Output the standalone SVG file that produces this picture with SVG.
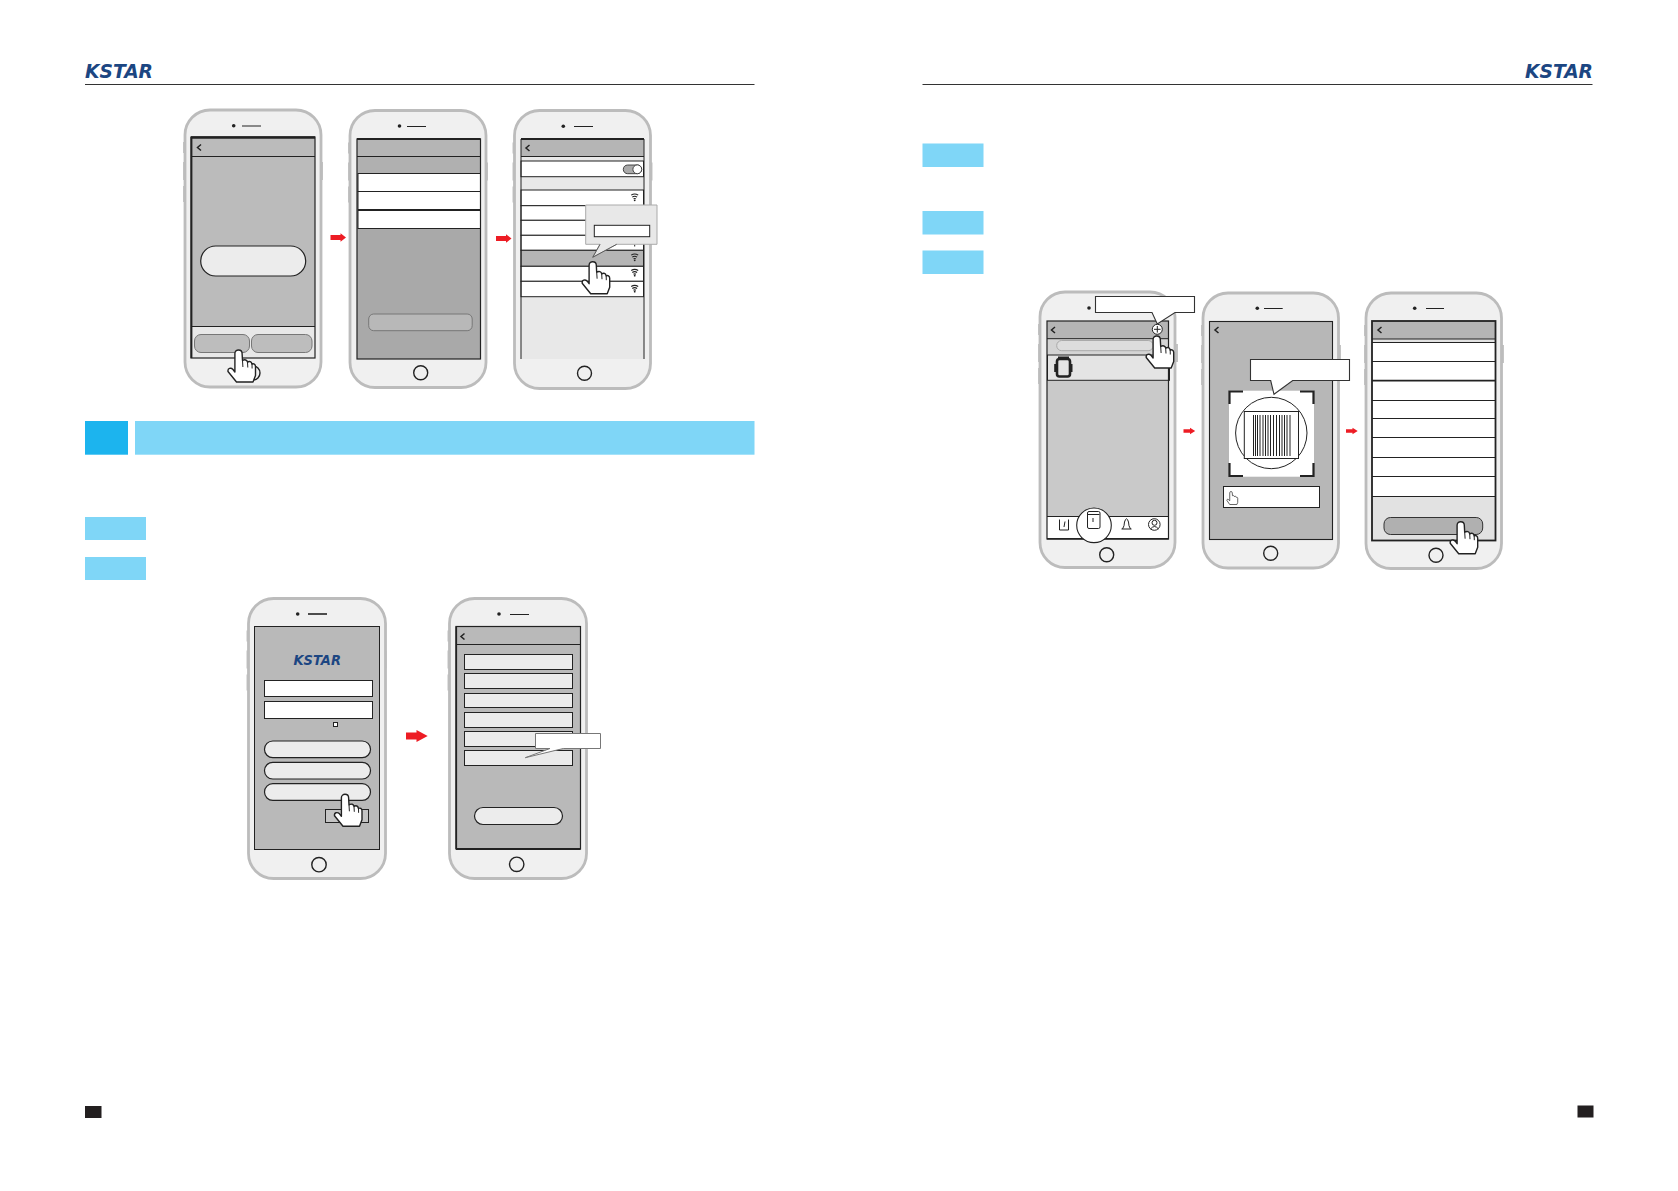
<svg xmlns="http://www.w3.org/2000/svg" width="1678" height="1191" viewBox="0 0 1678 1191">
<style>
.phone{fill:#f0f0f0;stroke:#bcbcbc;stroke-width:2.8}
.nub{fill:#c4c4c4;stroke:none}
.scr{stroke:#222;stroke-width:1.2}
.thick{stroke:#222;stroke-width:1.8;fill:none}
.home{fill:none;stroke:#222;stroke-width:1.4}
.spk{stroke:#222;stroke-width:1;fill:none}
.dot{fill:#222}
.hd{fill:#b5b5b5}
.w{fill:#fff;stroke:#222;stroke-width:1}
.lg{fill:#ebebeb;stroke:#222;stroke-width:1}
.pill{fill:#ececec;stroke:#222;stroke-width:1.2}
.chev{fill:none;stroke:#222;stroke-width:1.5}
.hand{fill:#fff;stroke:#222;stroke-width:1.4;stroke-linejoin:round}
.ln{stroke:#222;stroke-width:1;fill:none}
.arr{fill:#ed1c24}
.band{fill:#7fd6f7}
.rule{stroke:#333;stroke-width:1}
.logo{font-family:"DejaVu Sans",Verdana,sans-serif;font-weight:700;font-style:italic;fill:#1c4682}
.tip{fill:#fff;stroke:#777;stroke-width:1}
.tipd{fill:#fff;stroke:#333;stroke-width:1.1}
</style>
<defs>
<g id="nubs">
<rect class="nub" x="-2" y="32" width="2" height="11"/><rect class="nub" x="-2" y="52" width="2" height="18"/><rect class="nub" x="-2" y="76" width="2" height="16"/><rect class="nub" x="136" y="52" width="2" height="18"/>
</g>
<g id="hand">
<path class="hand" d="M-3.6,3.5C-3.6,-1.2 3.6,-1.2 3.6,3.5L4,10.5C6.2,9.2 8.6,9.8 9,12.2C11,10.8 13,11.6 13.5,14.2C15,13.2 17,14.2 17,16.5L17,25.5L14.5,32L-2,32L-10.5,21.5C-11,18 -7.5,17.5 -5.5,19.5L-3.6,22Z"/>
<path class="ln" d="M4,10.5L4.4,17M9,12.2L9.3,17.5M13.5,14.2L13.6,18.5" stroke-width="1.2"/>
</g>
<g id="wifi"><path d="M-3.5,-2.2Q0,-4.5 3.5,-2.2M-2.4,-0.2Q0,-2 2.4,-0.2M-1.2,1.6Q0,0.7 1.2,1.6" fill="none" stroke="#222" stroke-width="1.1"/><circle cx="0" cy="3" r="0.9" fill="#222"/></g>
<path id="chev" class="chev" d="M2,-3L-1.5,0L2,3"/>
<path id="rarrow" class="arr" d="M0,-2.6H10V-4.2L15.5,0L10,4.2V2.6H0Z"/>
</defs>

<g id="page-chrome">
<text class="logo" x="85" y="77.6" font-size="18.8" textLength="68" lengthAdjust="spacingAndGlyphs">KSTAR</text>
<text class="logo" x="1525" y="77.6" font-size="18.8" textLength="68" lengthAdjust="spacingAndGlyphs">KSTAR</text>
<line class="rule" x1="85" y1="84.5" x2="754.5" y2="84.5"/>
<line class="rule" x1="922.5" y1="84.5" x2="1592.5" y2="84.5"/>
<rect x="85" y="1106" width="16.5" height="12" fill="#231f20"/>
<rect x="1577.5" y="1105.5" width="16" height="12" fill="#231f20"/>
<rect x="85" y="421" width="43" height="33.7" fill="#1cb4ee"/>
<rect class="band" x="135" y="421" width="619.5" height="33.7"/>
<rect class="band" x="85" y="517" width="61" height="23"/>
<rect class="band" x="85" y="557" width="61" height="23"/>
<rect class="band" x="922.5" y="143.5" width="61" height="23.5"/>
<rect class="band" x="922.5" y="211" width="61" height="23.5"/>
<rect class="band" x="922.5" y="250.5" width="61" height="23.5"/>
</g>

<g id="connectors">
<use href="#rarrow" x="330.5" y="237.5"/>
<use href="#rarrow" x="496" y="238.5"/>
<path class="arr" d="M406,732.5H416.5V730L427.7,736L416.5,742V739.5H406Z"/>
<path class="arr" d="M1183.5,429.3H1190V427.7L1195.2,431L1190,434.3V432.7H1183.5Z"/>
<path class="arr" d="M1346,429.3H1352.5V427.7L1357.7,431L1352.5,434.3V432.7H1346Z"/>
</g>

<g id="phone-1">
<use href="#nubs" x="185" y="110"/>
<rect class="phone" x="185" y="110" width="136" height="277" rx="25"/>
<circle class="dot" cx="233.7" cy="125.7" r="1.8"/><line class="spk" x1="242" y1="126" x2="261" y2="126"/>
<circle class="home" cx="253" cy="373" r="7"/>
<rect x="191" y="137" width="124" height="189" fill="#bbb"/>
<rect x="191" y="326" width="124" height="32" fill="#e8e8e8"/>
<rect class="scr" x="191" y="137" width="124" height="221" fill="none"/>
<line x1="191" y1="137.5" x2="315" y2="137.5" stroke="#222" stroke-width="2.4"/>
<line x1="191.5" y1="137" x2="191.5" y2="358" stroke="#222" stroke-width="1.8"/>
<line class="ln" x1="191" y1="156.5" x2="315" y2="156.5"/>
<line class="ln" x1="191" y1="326.5" x2="315" y2="326.5"/>
<use href="#chev" x="199" y="147.5"/>
<rect class="pill" x="200.7" y="246" width="105" height="30" rx="15"/>
<rect x="194.5" y="334.5" width="55" height="18" rx="6.5" fill="#bdbdbd" stroke="#777"/>
<rect x="251.5" y="334.5" width="60.5" height="18" rx="6.5" fill="#bdbdbd" stroke="#777"/>
<use href="#hand" x="238.5" y="350"/>
</g>

<g id="phone-2">
<use href="#nubs" x="350" y="110.5"/>
<rect class="phone" x="350" y="110.5" width="136" height="277" rx="25"/>
<circle class="dot" cx="399.5" cy="126" r="1.8"/><line class="spk" x1="407" y1="126.5" x2="426" y2="126.5"/>
<circle class="home" cx="420.7" cy="372.7" r="7"/>
<rect x="357" y="139" width="123.5" height="220" fill="#a9a9a9"/>
<rect x="357" y="139" width="123.5" height="17.5" fill="#b5b5b5"/>
<rect x="357" y="156.5" width="123.5" height="17" fill="#b0b0b0"/>
<line class="ln" x1="357" y1="156.5" x2="480.5" y2="156.5"/>
<rect class="w" x="358" y="173.5" width="122.5" height="18"/>
<rect class="w" x="358" y="191.5" width="122.5" height="18"/>
<rect class="w" x="358" y="210.5" width="122.5" height="18"/>
<rect class="scr" x="357" y="139" width="123.5" height="220" fill="none"/>
<line x1="357" y1="139" x2="480.5" y2="139" stroke="#222" stroke-width="1.8"/>
<rect x="368.7" y="314" width="103.5" height="16.7" rx="5" fill="#b8b8b8" stroke="#777"/>
</g>

<g id="phone-3">
<use href="#nubs" x="514.5" y="110.5"/>
<rect class="phone" x="514.5" y="110.5" width="136" height="278" rx="25"/>
<circle class="dot" cx="563.3" cy="126.3" r="1.8"/><line class="spk" x1="574" y1="126.5" x2="593" y2="126.5"/>
<circle class="home" cx="584.5" cy="373.3" r="7"/>
<rect x="521" y="139" width="123" height="220" fill="#e8e8e8"/>
<rect class="hd" x="521" y="139" width="123" height="17.5"/>
<line x1="521" y1="139" x2="644" y2="139" stroke="#222" stroke-width="1.8"/>
<line class="ln" x1="521" y1="156.5" x2="644" y2="156.5"/>
<use href="#chev" x="527.5" y="148"/>
<rect class="w" x="521" y="161" width="122.5" height="15.7"/>
<rect class="w" x="521" y="190" width="122.5" height="15.7"/>
<rect class="w" x="521" y="205.7" width="122.5" height="14.6"/>
<rect class="w" x="521" y="220.3" width="122.5" height="15"/>
<rect class="w" x="521" y="235.3" width="122.5" height="15"/>
<rect x="521" y="250.3" width="122.5" height="16" fill="#b5b5b5" stroke="#222"/>
<rect class="w" x="521" y="266.3" width="122.5" height="15"/>
<rect class="w" x="521" y="281.3" width="122.5" height="15.4"/>
<path class="ln" d="M521,139V359M644,139V359"/>
<rect x="623.3" y="165" width="18.4" height="8.7" rx="4.3" fill="#aaa" stroke="#222" stroke-width=".8"/>
<circle cx="637.3" cy="169.3" r="4.4" fill="#fff" stroke="#222" stroke-width=".8"/>
<use href="#wifi" x="634.7" y="197.3"/>
<use href="#wifi" x="634.7" y="257.3"/>
<use href="#wifi" x="634.7" y="272.7"/>
<use href="#wifi" x="634.7" y="288.7"/>
<line class="ln" x1="634.7" y1="244.5" x2="634.7" y2="246.5"/>
<path d="M585.7,205H657V244.3H616.7L592.7,257.3L600,244.3H585.7Z" fill="#e8e8e8" stroke="#aaa"/>
<path d="M600,244.3L592.7,257.3L616.7,244.3" fill="none" stroke="#444" stroke-width=".8"/>
<rect class="w" x="594.3" y="225.3" width="55.4" height="11.4" stroke="#333"/>
<use href="#hand" x="592.7" y="261.7"/>
</g>

<g id="phone-4">
<use href="#nubs" x="248.5" y="598.5"/>
<rect class="phone" x="248.5" y="598.5" width="137" height="280" rx="25"/>
<circle class="dot" cx="297.7" cy="614" r="1.8"/><line x1="308" y1="614" x2="327" y2="614" stroke="#222" stroke-width="1.6"/>
<circle class="home" cx="319" cy="864.7" r="7.2"/>
<rect x="254.5" y="626.5" width="125" height="223" fill="#b9b9b9" stroke="#222"/>
<text class="logo" x="293.5" y="665" font-size="13.7" textLength="47.5" lengthAdjust="spacingAndGlyphs">KSTAR</text>
<rect class="w" x="264.5" y="680.5" width="108" height="16"/>
<rect class="w" x="264.5" y="701.5" width="108" height="17"/>
<rect class="w" x="333.5" y="722.5" width="4" height="4"/>
<rect class="pill" x="264.5" y="741" width="106" height="16.7" rx="8.3"/>
<rect class="pill" x="264.5" y="762.3" width="106" height="16.7" rx="8.3"/>
<rect class="pill" x="264.5" y="783.7" width="106" height="16.7" rx="8.3"/>
<rect x="325.5" y="809.5" width="43" height="13" fill="#c4c4c4" stroke="#222"/>
<use href="#hand" x="345" y="794.3"/>
</g>

<g id="phone-5">
<use href="#nubs" x="449.5" y="598.5"/>
<rect class="phone" x="449.5" y="598.5" width="137" height="280" rx="25"/>
<circle class="dot" cx="499" cy="614" r="1.8"/><line class="spk" x1="510" y1="614.5" x2="529" y2="614.5"/>
<circle class="home" cx="516.7" cy="864.3" r="7.2"/>
<rect class="scr" x="456" y="626.5" width="124.5" height="222.5" fill="#b9b9b9"/>
<line x1="456" y1="849" x2="580.5" y2="849" stroke="#222" stroke-width="1.8"/>
<line x1="456.3" y1="626.5" x2="456.3" y2="849" stroke="#222" stroke-width="1.6"/>
<line class="ln" x1="456" y1="644.5" x2="580.5" y2="644.5"/>
<use href="#chev" x="462.5" y="636.5"/>
<rect class="lg" x="464.5" y="654.5" width="108" height="15"/>
<rect class="lg" x="464.5" y="673.5" width="108" height="15"/>
<rect class="lg" x="464.5" y="693.5" width="108" height="14"/>
<rect class="lg" x="464.5" y="712.5" width="108" height="15"/>
<rect class="lg" x="464.5" y="731.5" width="108" height="15"/>
<rect class="lg" x="464.5" y="750.5" width="108" height="15"/>
<rect class="pill" x="474.5" y="807.5" width="88" height="17" rx="8.5"/>
<path class="tip" d="M535.5,733.5H600.5V748.5H563.3L525.3,757.7L550,748.5H535.5Z"/>
</g>

<g id="phone-6">
<use href="#nubs" x="1040" y="292"/>
<rect class="phone" x="1040" y="292" width="135" height="275.5" rx="25"/>
<circle class="dot" cx="1089" cy="308" r="1.8"/>
<circle class="home" cx="1106.7" cy="554.7" r="7"/>
<rect x="1047" y="321" width="121.5" height="218" fill="#c9c9c9"/>
<rect class="hd" x="1047" y="321" width="121.5" height="18"/>
<rect x="1047" y="339" width="121.5" height="16" fill="#d4d4d4"/>
<rect x="1047.5" y="355" width="122" height="25.3" fill="#e4e4e4" stroke="#222"/>
<rect x="1047" y="516" width="121.5" height="22.5" fill="#fff"/>
<rect class="scr" x="1047" y="321" width="121.5" height="218" fill="none"/>
<line class="ln" x1="1047" y1="338.7" x2="1168.5" y2="338.7"/>
<line class="ln" x1="1047" y1="516.5" x2="1168.5" y2="516.5"/>
<line x1="1047" y1="538.7" x2="1168.5" y2="538.7" stroke="#222" stroke-width="1.6"/>
<use href="#chev" x="1053" y="330"/>
<rect x="1056.7" y="340.5" width="96.5" height="10.2" rx="5" fill="#ddd" stroke="#aaa"/>
<rect x="1057" y="359" width="13" height="17.5" rx="2.5" fill="none" stroke="#222" stroke-width="2.6"/>
<path d="M1055.2,364V372M1071.5,364V372M1058,357.5H1069" stroke="#222" stroke-width="2"/>
<path class="ln" d="M1059.5,519.5V530H1068.5V519.5M1064,527L1065,521.5" stroke-width="1.4"/>
<circle cx="1094" cy="525.3" r="17.3" fill="#fff" stroke="#222" stroke-width="1.1"/>
<rect x="1087.5" y="511.5" width="12.5" height="17" rx="1.5" fill="none" stroke="#222"/>
<path class="ln" d="M1088,514.5H1099.5M1093,518V522"/>
<path class="ln" d="M1121.5,529H1131.5M1122.5,529Q1124.5,526 1124.5,522Q1126.5,515.5 1128.5,522Q1128.5,526 1130.5,529"/>
<circle class="ln" cx="1154.3" cy="524.5" r="5.8"/>
<circle class="ln" cx="1154.5" cy="522.8" r="2.5"/>
<path class="ln" d="M1150.5,529Q1154.5,524 1158.5,529"/>
<path class="tipd" d="M1095.5,296.5H1194.5V312.5H1175L1157.3,324L1152,312.5H1095.5Z"/>
<circle cx="1157.3" cy="329.3" r="5" fill="#fff" stroke="#222"/>
<path class="ln" d="M1154,329.3H1160.6M1157.3,326V332.6"/>
<use href="#hand" x="1156.7" y="336"/>
</g>

<g id="phone-7">
<use href="#nubs" x="1203" y="293"/>
<rect class="phone" x="1203" y="293" width="135.5" height="275" rx="25"/>
<circle class="dot" cx="1257.3" cy="308.3" r="1.8"/><line class="spk" x1="1264" y1="308.5" x2="1282.7" y2="308.5"/>
<circle class="home" cx="1270.7" cy="553.3" r="7"/>
<rect x="1209.5" y="321.5" width="123" height="218" fill="#b7b7b7" stroke="#222" stroke-width="1.1"/>
<use href="#chev" x="1216.5" y="330"/>
<rect x="1229" y="390.7" width="85" height="86" fill="#fff"/>
<path d="M1243,391.5H1229.5V404M1300,391.5H1313.5V404M1229.5,463V476H1243M1313.5,463V476H1300" fill="none" stroke="#222" stroke-width="2.2"/>
<circle cx="1271.3" cy="433" r="35.7" fill="#fff" stroke="#222" stroke-width="1"/>
<rect x="1244.3" y="411.5" width="54.2" height="47" fill="#fff" stroke="#222" stroke-width="1"/>
<path stroke="#222" fill="none" d="M1253.5,415V456M1255.5,415V456M1257.5,415V456M1260,415V456M1263,415V456M1265.5,415V456M1268,415V456M1270.5,415V456M1273.5,415V456M1276.5,415V456M1279.5,415V456M1282,415V456M1284.5,415V456M1287,415V456M1290,415V456"/>
<path class="tipd" d="M1250.5,359.5H1349.5V380.5H1292.7L1274,394.3L1270.7,380.5H1250.5Z"/>
<rect class="w" x="1223.5" y="486.5" width="96" height="21"/>
<g transform="translate(1231,491.5) scale(.42)"><path d="M-3,3C-3,-1 3,-1 3,3L3.5,10C6,9 8,10 8,12C10,10.5 12,11.5 12.5,14C14,13 16,14 16,16L16,26L14,31L-3,31L-10,21C-10,18 -7,18 -5,20L-3,22Z" fill="#fff" stroke="#333" stroke-width="1.8"/></g>
</g>

<g id="phone-8">
<use href="#nubs" x="1366" y="293"/>
<rect class="phone" x="1366" y="293" width="135.5" height="275.5" rx="25"/>
<circle class="dot" cx="1414.7" cy="308.3" r="1.8"/><line class="spk" x1="1426" y1="308.5" x2="1444" y2="308.5"/>
<circle class="home" cx="1436" cy="555.3" r="7"/>
<rect x="1372" y="321" width="123.5" height="219.5" fill="#e2e2e2"/>
<rect class="hd" x="1372" y="321" width="123.5" height="18"/>
<rect x="1372" y="342.3" width="123.5" height="154.4" fill="#fff"/>
<path class="ln" d="M1372,339H1495.5M1372,342.5H1495.5M1372,361.5H1495.5M1372,400.5H1495.5M1372,418.5H1495.5M1372,437.5H1495.5M1372,457.5H1495.5M1372,476.5H1495.5M1372,496.5H1495.5"/>
<line x1="1372" y1="380.7" x2="1495.5" y2="380.7" stroke="#222" stroke-width="1.8"/>
<rect class="thick" x="1372" y="321" width="123.5" height="219.5"/>
<use href="#chev" x="1379.5" y="330"/>
<rect x="1384" y="517.5" width="98.7" height="17" rx="6.5" fill="#b0b0b0" stroke="#333"/>
<use href="#hand" x="1460.7" y="521.7"/>
</g>
</svg>
